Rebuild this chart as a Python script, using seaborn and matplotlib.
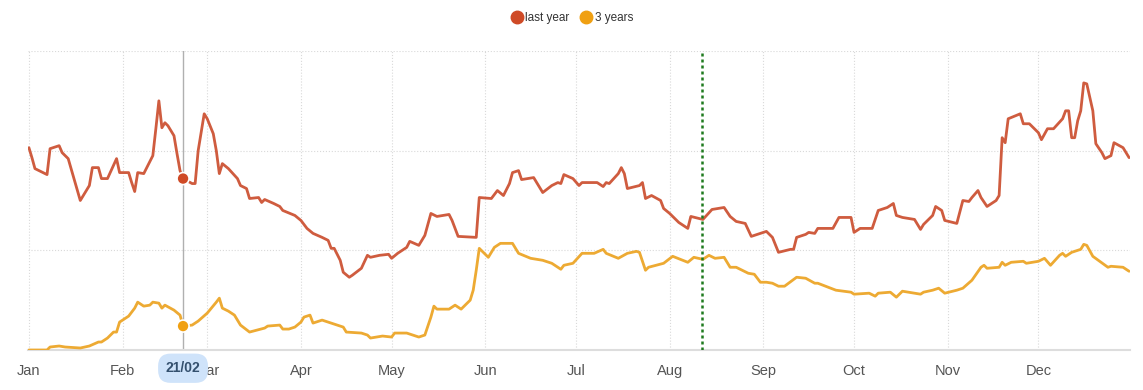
import pandas as pd
import matplotlib
matplotlib.use('Agg')
import matplotlib.pyplot as plt
import matplotlib.dates as mdates
from matplotlib.lines import Line2D
import seaborn as sns

# day of year (0 = 1 Jan) and index value
last_year_days = [0, 1, 2, 6, 7, 10, 11, 13, 17, 20, 21, 23, 24, 26, 29, 30, 33, 34, 35, 36,
                  38, 41, 42, 43, 44, 45, 46, 48, 49, 50, 51, 54, 55, 56, 58, 59, 61, 62, 63, 64,
                  66, 69, 70, 72, 73, 76, 77, 78, 81, 83, 84, 88, 90, 92, 94, 97, 99, 100, 101, 103,
                  104, 106, 107, 110, 112, 113, 116, 119, 120, 122, 125, 126, 129, 131, 133, 135, 139, 140, 142, 148,
                  149, 153, 155, 157, 159, 160, 162, 163, 167, 170, 173, 175, 176, 177, 180, 182, 183, 188, 190, 191,
                  192, 195, 196, 197, 198, 202, 203, 204, 206, 209, 210, 212, 215, 218, 219, 223, 226, 230, 232, 234,
                  237, 239, 244, 246, 248, 252, 253, 254, 257, 258, 260, 261, 266, 268, 272, 273, 275, 279, 281, 284,
                  286, 287, 289, 293, 295, 296, 299, 300, 302, 303, 307, 309, 311, 312, 314, 315, 317, 320, 321, 322,
                  323, 324, 328, 329, 331, 334, 335, 337, 339, 342, 343, 344, 345, 346, 347, 348, 349, 350, 352, 353,
                  355, 356, 358, 359, 362, 364]
last_year_vals = [203, 193, 182, 176, 202, 205, 198, 192, 150, 165, 183, 183, 172, 172, 192, 178, 178, 168, 159, 178,
                  177, 195, 222, 250, 223, 228, 225, 215, 197, 180, 172, 167, 167, 200, 237, 232, 217, 200, 177, 187,
                  182, 172, 165, 162, 152, 153, 148, 151, 147, 144, 140, 135, 130, 122, 117, 113, 110, 102, 102, 90,
                  78, 73, 75, 82, 95, 93, 95, 96, 92, 97, 103, 109, 105, 115, 137, 134, 136, 130, 114, 113,
                  153, 152, 160, 155, 167, 178, 180, 171, 173, 158, 165, 168, 167, 176, 172, 165, 168, 168, 164, 168,
                  167, 177, 183, 177, 162, 165, 168, 152, 155, 150, 142, 137, 128, 122, 134, 131, 141, 143, 134, 129,
                  127, 114, 119, 113, 98, 101, 101, 113, 116, 118, 117, 122, 122, 133, 133, 118, 122, 122, 140, 143,
                  147, 135, 133, 131, 121, 126, 135, 144, 140, 130, 127, 150, 149, 153, 160, 153, 144, 150, 155, 213,
                  208, 232, 237, 227, 227, 218, 211, 222, 222, 232, 240, 240, 213, 213, 230, 240, 268, 267, 240, 207,
                  198, 192, 195, 208, 203, 193]

three_year_days = [0, 6, 7, 10, 12, 17, 20, 23, 24, 26, 28, 29, 30, 33, 35, 36, 38, 40, 41, 43,
                   44, 45, 48, 50, 51, 54, 56, 59, 62, 63, 64, 66, 68, 69, 70, 73, 78, 79, 83, 84,
                   86, 88, 90, 91, 93, 94, 97, 100, 104, 105, 110, 112, 113, 117, 120, 121, 125, 129, 131, 133,
                   134, 135, 139, 141, 143, 146, 147, 148, 149, 152, 154, 156, 160, 162, 166, 170, 173, 176, 177, 180,
                   183, 187, 190, 191, 195, 198, 201, 202, 204, 205, 210, 213, 218, 220, 223, 225, 227, 230, 232, 234,
                   238, 240, 242, 244, 246, 248, 250, 254, 257, 260, 261, 267, 272, 273, 278, 280, 281, 285, 287, 289,
                   293, 295, 296, 299, 301, 303, 307, 309, 312, 315, 316, 317, 321, 322, 323, 325, 329, 330, 334, 336,
                   338, 341, 342, 343, 345, 348, 349, 350, 352, 357, 358, 362, 364]
three_year_vals = [0, 0, 3, 4, 3, 2, 4, 8, 8, 12, 18, 18, 28, 34, 42, 48, 44, 45, 48, 47,
                   42, 45, 40, 35, 24, 25, 29, 37, 48, 52, 42, 39, 35, 30, 25, 18, 22, 24, 25, 21,
                   21, 23, 28, 33, 35, 27, 30, 27, 23, 18, 17, 15, 12, 14, 13, 17, 17, 13, 15, 33,
                   44, 41, 41, 45, 41, 50, 60, 80, 102, 93, 103, 107, 107, 97, 92, 90, 87, 81, 85, 87,
                   97, 97, 101, 97, 92, 97, 99, 98, 80, 83, 87, 94, 88, 93, 91, 95, 92, 93, 83, 83,
                   77, 76, 68, 68, 67, 64, 64, 73, 72, 67, 67, 60, 58, 56, 57, 54, 57, 58, 53, 59,
                   57, 56, 58, 60, 62, 57, 60, 62, 70, 83, 85, 82, 83, 88, 85, 88, 89, 87, 89, 92,
                   85, 95, 97, 94, 98, 101, 106, 105, 94, 83, 84, 83, 79]

series_names = ['last year', '3 years']
series_colors = ['#cf5c3f', '#edaa33']
dot_colors = ['#cf4a26', '#f0a012']
month_labels = ['Jan', 'Feb', 'Mar', 'Apr', 'May', 'Jun', 'Jul', 'Aug', 'Sep', 'Oct', 'Nov', 'Dec']
hover_day = 51        # 21/02
today_day = 222.6     # green marker, mid August

start = pd.Timestamp('2023-01-01')


def to_date(days):
    return start + pd.to_timedelta(days, unit='D')


df = pd.concat([
    pd.DataFrame({'date': to_date(last_year_days), 'value': last_year_vals, 'series': series_names[0]}),
    pd.DataFrame({'date': to_date(three_year_days), 'value': three_year_vals, 'series': series_names[1]}),
])

sns.set_style('white')
plt.rcParams['font.family'] = ['Liberation Sans', 'DejaVu Sans']

fig = plt.figure(figsize=(11.43, 3.9), dpi=100)
ax = fig.add_axes([28 / 1143, 1 - 350 / 390, 1102 / 1143, 299 / 390])

sns.lineplot(data=df, x='date', y='value', hue='series', palette=series_colors,
             linewidth=2.0, legend=False, ax=ax, zorder=3)

# hover marker at 21/02
hover_date = to_date(hover_day)
ax.axvline(hover_date, color='#b0b0b0', lw=1, zorder=2)
hover_pts = pd.DataFrame({
    'date': [hover_date, hover_date],
    'value': [last_year_vals[last_year_days.index(hover_day)],
              three_year_vals[three_year_days.index(hover_day)]],
    'series': series_names,
})
sns.scatterplot(data=hover_pts, x='date', y='value', hue='series', palette=dot_colors,
                s=75, edgecolor='white', linewidth=1.2, legend=False, ax=ax, zorder=5)

# today marker
ax.axvline(to_date(today_day), color='#1f7a1f', lw=1.8, ls=(0, (1.2, 1.2)), zorder=4)

ax.set_xlim(to_date(-0.3), to_date(364.3))
ax.set_ylim(0, 300)
ax.set_yticks([100, 200, 300])
ax.set_yticklabels([])
month_starts = pd.date_range('2023-01-01', periods=12, freq='MS')
ax.set_xticks(month_starts)
ax.set_xticklabels(month_labels)
ax.xaxis.set_major_formatter(mdates.DateFormatter('%b'))
ax.tick_params(axis='x', length=0, pad=10, labelsize=10.5, labelcolor='#555555')
ax.tick_params(axis='y', length=0)
ax.grid(True, color='#d9d9d9', lw=0.8, ls=':')
ax.set_xlabel('')
ax.set_ylabel('')
for side in ['top', 'left', 'right']:
    ax.spines[side].set_visible(False)
ax.spines['bottom'].set_color('#dddddd')
ax.spines['bottom'].set_linewidth(1.5)

# date badge covering the Mar label
ax.annotate('21/02', xy=(mdates.date2num(hover_date), -0.061), xycoords=('data', 'axes fraction'),
            ha='center', va='center', fontsize=10, fontweight='bold', color='#34506e',
            bbox=dict(boxstyle='round,pad=0.55,rounding_size=0.9', fc='#cfe3fa', ec='none'),
            annotation_clip=False, zorder=10)

handles = [Line2D([], [], marker='o', ls='', markersize=9, color=c) for c in dot_colors]
fig.legend(handles, series_names, loc='center', bbox_to_anchor=(0.5, 1 - 18 / 390), ncol=2,
           frameon=False, fontsize=8.5, handletextpad=0.15, columnspacing=0.9,
           handlelength=1.1, labelcolor='#333333')

fig.savefig('out.png', dpi=100)
